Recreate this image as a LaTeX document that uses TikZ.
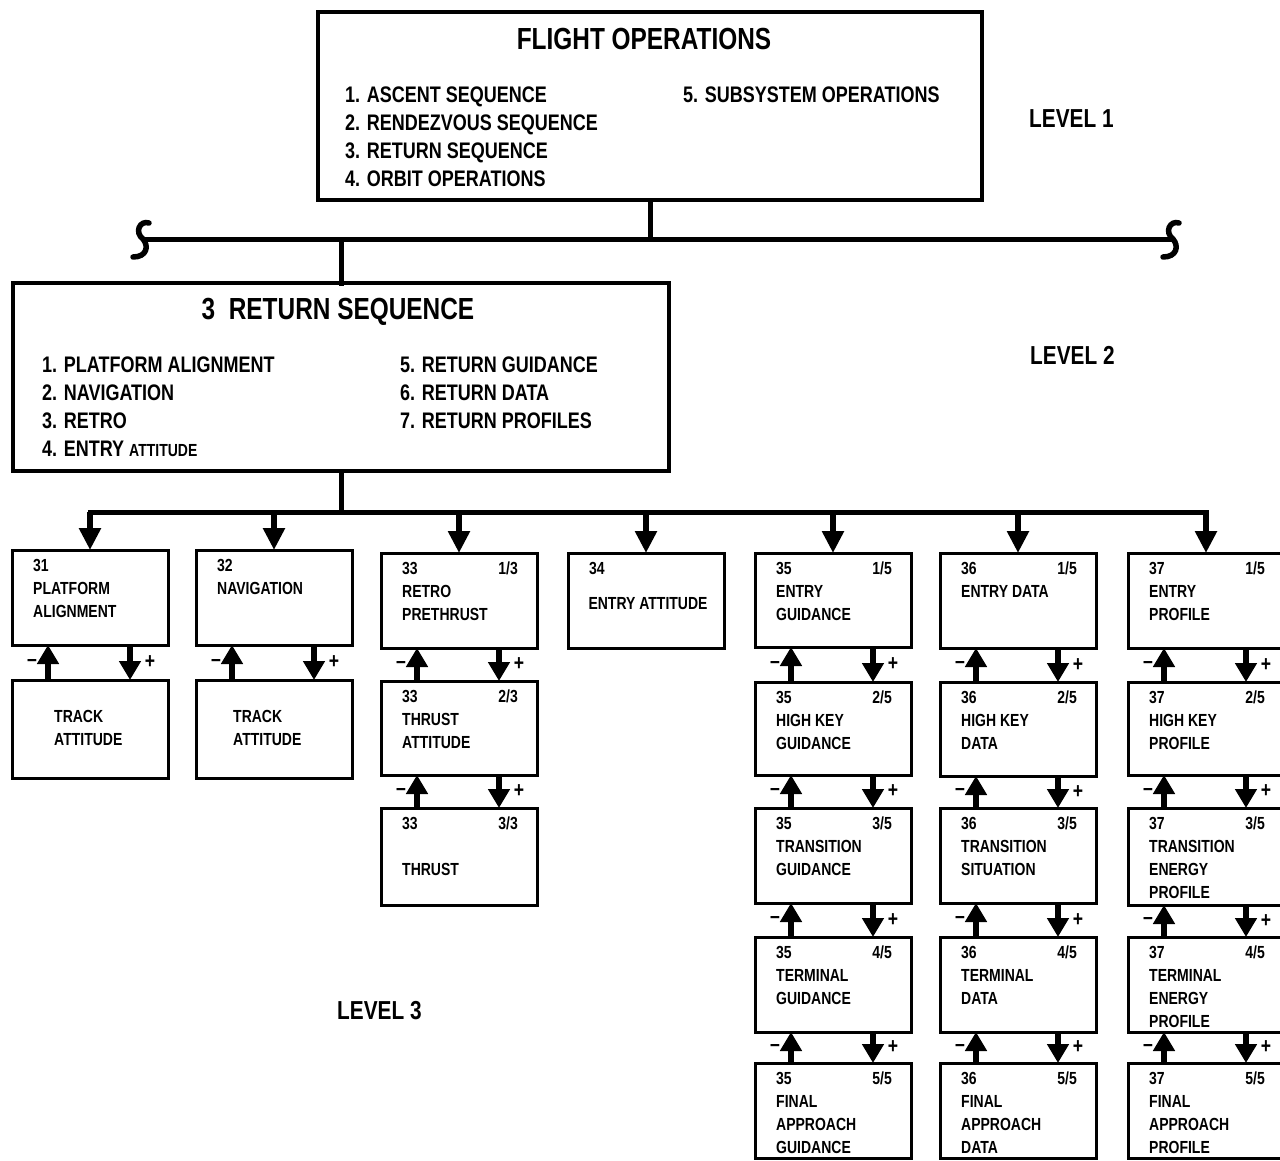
\documentclass[tikz,border=0pt]{standalone}
\usepackage{fontspec}
\setmainfont{Liberation Sans}[FakeStretch=0.8]
\usetikzlibrary{arrows.meta,calc}

% stacked text lines with a fixed baseline distance; the reference point is the first baseline
\newcommand\rowsof[2]{\vtop{\baselineskip=#1pt\lineskiplimit=-20pt\lineskip=0pt\halign{##\hfil\cr#2\crcr}}}

\tikzset{
  boxframe/.style={draw, line width=3pt, inner sep=0pt, outer sep=0pt},
  opframe/.style={boxframe, minimum width=156pt},
  conn/.style={line width=5pt, line cap=rect},
  arr/.style={line width=5.5pt, -{Triangle[length=19pt,width=21pt]}},
  busarr/.style={line width=5.5pt, -{Triangle[length=22pt,width=21pt]}},
  big/.style={font=\bfseries\fontsize{30.5}{36}\selectfont, inner sep=0pt},
  item/.style={font=\bfseries\fontsize{22.5}{28}\selectfont, inner sep=0pt},
  lvl/.style={font=\bfseries\fontsize{26}{30}\selectfont, inner sep=0pt, anchor=base west},
  small/.style={font=\bfseries\fontsize{17.5}{23}\selectfont, inner sep=0pt},
  sign/.style={font=\bfseries\fontsize{22}{24}\selectfont, inner sep=0pt},
  squiggle/.pic={\draw[line width=5.5pt, line cap=round]
      (6,-16) .. controls (-3,-19) and (-9,-7) .. (0,0)
              .. controls (6,7) and (4,18) .. (-10,18);},
}

% level-3 box: name, left, top, bottom, number, part, title lines
\newcommand\opbox[7]{%
  \node[opframe, minimum height={#4-#3}, anchor=north west] (#1) at (#2,#3) {};
  \node[small, anchor=base west] (#1n) at ([shift={(21,21)}]#1.north west) {#5};
  \node[small, anchor=base east] (#1f) at ([shift={(137,21)}]#1.north west) {#6};
  \node[small, anchor=base west] (#1t) at ([shift={(21,44)}]#1.north west) {\rowsof{23}{#7}};
}

% pair of feedback arrows between two stacked boxes
\newcommand\link[2]{%
  \draw[arr] ([xshift=36pt]#2.north west) -- ([xshift=36pt]#1.south west);
  \draw[arr] ([xshift=-38pt]#1.south east) -- ([xshift=-38pt]#2.north east);
  \node[sign] (#1m) at ($([xshift=20pt]#1.south west)!0.5!([xshift=20pt]#2.north west)$) {\textendash};
  \node[sign] (#1p) at ($([xshift=-18pt]#1.south east)!0.5!([xshift=-18pt]#2.north east)$) {+};
}

\begin{document}
\begin{tikzpicture}[x=1pt,y=-1pt]
\useasboundingbox (0,0) rectangle (1280,1160);

% ---------- level 1 ----------
\node[boxframe, line width=3.5pt, minimum width=664pt, minimum height=188pt, anchor=north west] (l1) at (318,12) {};
\node[big, anchor=base] (l1title) at ([shift={(326,37)}]l1.north west) {FLIGHT OPERATIONS};
\node[item, anchor=base west] (l1a) at ([shift={(27,90)}]l1.north west)
  {\rowsof{28}{1. ASCENT SEQUENCE\cr 2. RENDEZVOUS SEQUENCE\cr 3. RETURN SEQUENCE\cr 4. ORBIT OPERATIONS}};
\node[item, anchor=base west] (l1b) at ([shift={(365,90)}]l1.north west) {5. SUBSYSTEM OPERATIONS};
\node[lvl] (lev1) at (1029,127) {LEVEL 1};

% bar with broken ends
\coordinate (barL) at (143,239);
\coordinate (barR) at (1173,239);
\draw[conn] (l1.south) -- (l1.south |- barL);
\draw[conn, line cap=butt] (barL) -- (barR);
\pic at (barL) {squiggle};
\pic at (barR) {squiggle};

% ---------- level 2 ----------
\node[boxframe, line width=3.5pt, minimum width=656pt, minimum height=188pt, anchor=north west] (l2) at (13,283) {};
\draw[conn] (l2.north |- barL) -- (l2.north);
\node[big, anchor=base] (l2title) at ([shift={(325,36)}]l2.north west) {3~~RETURN SEQUENCE};
\node[item, anchor=base west] (l2a) at ([shift={(29,89)}]l2.north west)
  {\rowsof{28}{1. PLATFORM ALIGNMENT\cr 2. NAVIGATION\cr 3. RETRO\cr 4. ENTRY {\fontsize{17.5}{23}\selectfont ATTITUDE}}};
\node[item, anchor=base west] (l2b) at ([shift={(387,89)}]l2.north west)
  {\rowsof{28}{5. RETURN GUIDANCE\cr 6. RETURN DATA\cr 7. RETURN PROFILES}};
\node[lvl] (lev2) at (1030,364) {LEVEL 2};

\coordinate (bus) at ($(l2.south)+(0,41)$);
\draw[conn] (l2.south) -- (bus);

% ---------- level 3 ----------
\opbox{b31}{12}{550}{645}{31}{}{PLATFORM\cr ALIGNMENT}
\opbox{b32}{196}{550}{645}{32}{}{NAVIGATION}
\opbox{b33a}{381}{553}{648}{33}{1/3}{RETRO\cr PRETHRUST}
\opbox{b33b}{381}{681}{775}{33}{2/3}{THRUST\cr ATTITUDE}
\opbox{b33c}{381}{808}{905}{33}{3/3}{\mbox{}\cr THRUST}
\opbox{b34}{568}{553}{648}{34}{}{}
\node[small, anchor=base] (b34x) at ([shift={(80,56)}]b34.north west) {ENTRY ATTITUDE};

\opbox{b35a}{755}{553}{647}{35}{1/5}{ENTRY\cr GUIDANCE}
\opbox{b35b}{755}{682}{775}{35}{2/5}{HIGH KEY\cr GUIDANCE}
\opbox{b35c}{755}{808}{903}{35}{3/5}{TRANSITION\cr GUIDANCE}
\opbox{b35d}{755}{937}{1032}{35}{4/5}{TERMINAL\cr GUIDANCE}
\opbox{b35e}{755}{1063}{1158}{35}{5/5}{FINAL\cr APPROACH\cr GUIDANCE}

\opbox{b36a}{940}{553}{648}{36}{1/5}{ENTRY DATA}
\opbox{b36b}{940}{682}{776}{36}{2/5}{HIGH KEY\cr DATA}
\opbox{b36c}{940}{808}{903}{36}{3/5}{TRANSITION\cr SITUATION}
\opbox{b36d}{940}{937}{1032}{36}{4/5}{TERMINAL\cr DATA}
\opbox{b36e}{940}{1063}{1158}{36}{5/5}{FINAL\cr APPROACH\cr DATA}

\opbox{b37a}{1128}{553}{648}{37}{1/5}{ENTRY\cr PROFILE}
\opbox{b37b}{1128}{682}{775}{37}{2/5}{HIGH KEY\cr PROFILE}
\opbox{b37c}{1128}{808}{905}{37}{3/5}{TRANSITION\cr ENERGY\cr PROFILE}
\opbox{b37d}{1128}{937}{1032}{37}{4/5}{TERMINAL\cr ENERGY\cr PROFILE}
\opbox{b37e}{1128}{1063}{1158}{37}{5/5}{FINAL\cr APPROACH\cr PROFILE}

% tracking boxes under 31 and 32
\node[opframe, minimum height=98pt, anchor=north west] (t31) at (12,680) {};
\node[small, anchor=base west] (t31t) at ([shift={(42,42)}]t31.north west) {\rowsof{23}{TRACK\cr ATTITUDE}};
\node[opframe, minimum height=98pt, anchor=north west] (t32) at (196,680) {};
\node[small, anchor=base west] (t32t) at ([shift={(37,42)}]t32.north west) {\rowsof{23}{TRACK\cr ATTITUDE}};

\node[lvl] (lev3) at (337,1019) {LEVEL 3};

% distribution bus
\draw[conn] (b31.north |- bus) -- (b37a.north |- bus);
\foreach \b in {b31,b32,b33a,b34,b35a,b36a,b37a}
  \draw[busarr] (\b.north |- bus) -- (\b.north);

% feedback arrows
\link{b31}{t31}
\link{b32}{t32}
\link{b33a}{b33b}
\link{b33b}{b33c}
\link{b35a}{b35b}
\link{b35b}{b35c}
\link{b35c}{b35d}
\link{b35d}{b35e}
\link{b36a}{b36b}
\link{b36b}{b36c}
\link{b36c}{b36d}
\link{b36d}{b36e}
\link{b37a}{b37b}
\link{b37b}{b37c}
\link{b37c}{b37d}
\link{b37d}{b37e}
\end{tikzpicture}
\end{document}
